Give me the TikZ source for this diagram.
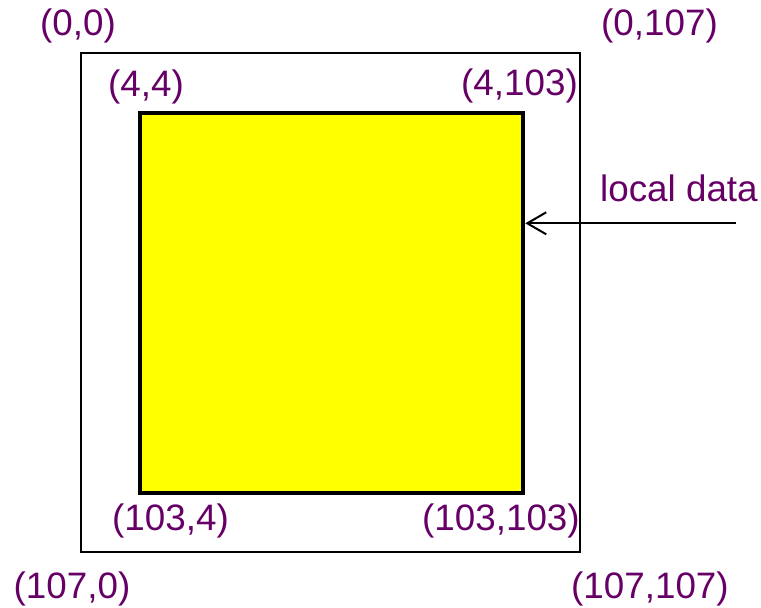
\documentclass[tikz,border=0pt]{standalone}
\usepackage{fontspec}
\setmainfont{Liberation Sans}
\usetikzlibrary{arrows.meta}
\definecolor{labelpurple}{RGB}{102,0,102}
\definecolor{boxyellow}{RGB}{255,255,0}
\begin{document}
\begin{tikzpicture}[x=1pt,y=-1pt,
  lbl/.style={anchor=base west,inner sep=0pt,text=labelpurple,font=\fontsize{36.8}{44}\selectfont},
  outerbox/.style={draw=black,line width=2pt,minimum width=499pt,minimum height=498.5pt,inner sep=0pt},
  innerbox/.style={draw=black,fill=boxyellow,line width=4.5pt,minimum width=383pt,minimum height=380pt,inner sep=0pt},
  arr/.style={line width=2pt,-{Straight Barb[length=19pt,width=22pt,line width=2pt]}}]
\useasboundingbox (0,0) rectangle (761,608);
\node[outerbox] (outer) at (330.5,302.5) {};
\node[innerbox] (inner) at (331.5,303.2) {};
\node[lbl] (l00) at (40,35) {(0,0)};
\node[lbl] (l0107) at (601,35) {(0,107)};
\node[lbl] (l44) at (108,96) {(4,4)};
\node[lbl] (l4103) at (461,95) {(4,103)};
\node[lbl] (ldata) at (600,201.5) {local data};
\node[lbl] (l1034) at (112,530) {(103,4)};
\node[lbl] (l103103) at (422,530) {(103,103)};
\node[lbl] (l1070) at (13.5,598) {(107,0)};
\node[lbl] (l107107) at (571,598) {(107,107)};
\coordinate (src) at (736,223.3);
\draw[arr] (src) -- (inner.east |- src);
\end{tikzpicture}
\end{document}
